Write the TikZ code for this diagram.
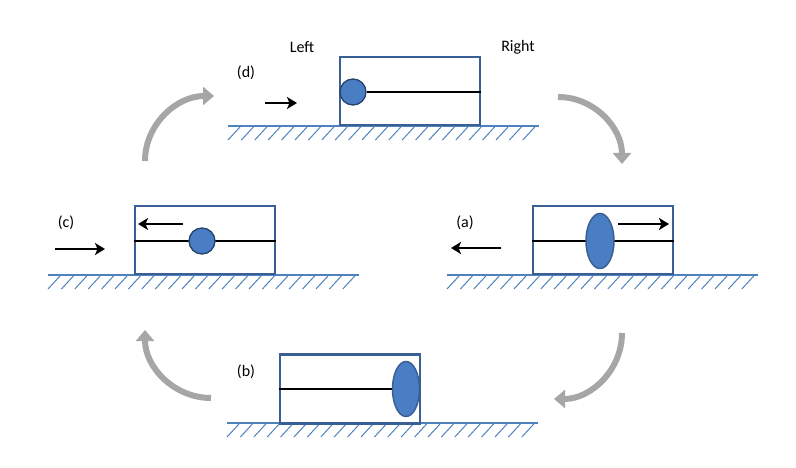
\documentclass[tikz,border=0pt]{standalone}
\usepackage{fontspec}
\setmainfont{Carlito}
\usetikzlibrary{arrows.meta,shapes.geometric}
\definecolor{boxblue}{HTML}{3A5F94}
\definecolor{ballfill}{HTML}{4A7EC4}
\definecolor{ballline}{HTML}{24426B}
\definecolor{groundblue}{HTML}{4F81BD}
\definecolor{cyclegray}{HTML}{A6A6A6}
\tikzset{
  housing/.style={draw=boxblue, line width=2.2pt, fill=white, rectangle, minimum width=140pt, inner sep=0pt},
  ball/.style={draw=ballline, line width=1.3pt, fill=ballfill, circle, minimum size=26pt, inner sep=0pt},
  disc/.style={draw=boxblue, line width=1.5pt, fill=ballfill, ellipse, inner sep=0pt},
  rod/.style={black, line width=2pt},
  groundline/.style={draw=groundblue, line width=1.5pt},
  hatchline/.style={draw=groundblue, line width=1pt},
  motion/.style={black, line width=2.8pt, -{Stealth[length=10pt,width=12pt,inset=2.5pt]}},
  cycle arrow/.style={cyclegray, line width=6pt, -{Triangle[length=11pt,width=18pt]}},
  tag/.style={font=\fontsize{16pt}{18pt}\selectfont, inner sep=0pt}
}
\begin{document}
\begin{tikzpicture}[x=1pt,y=-1pt]
\useasboundingbox (0,0) rectangle (796,468);
% grounds
\foreach \gx/\gy in {228/126, 48/275, 447/275, 227/423}{
  \draw[groundline] (\gx,\gy) -- ++(311,0);
  \foreach \k in {0,...,22}{
    \draw[hatchline] ({\gx+\k*13.4},{\gy+14}) -- ++(12,-13);
  }
}
% panel d
\node[housing, minimum height=68pt] (boxd) at (410,91) {};
\node[ball] (balld) at (353,92) {};
\draw[rod] (balld.east) -- (boxd.east |- balld.east);
\node[tag] (labd) at (246,73) {(d)};
\node[tag] (left) at (302,47) {Left};
\node[tag] (right) at (518,47) {Right};
\coordinate (d0) at (265,103); \coordinate (d1) at (297,103);
\draw[motion] (d0) -- (d1);
% panel c
\node[housing, minimum height=68pt] (boxc) at (205,240) {};
\draw[rod] (boxc.west |- 0,241) -- (boxc.east |- 0,241);
\node[ball] (ballc) at (202,241) {};
\node[tag] (labc) at (66,223) {(c)};
\coordinate (c0) at (55,249); \coordinate (c1) at (105,249);
\draw[motion] (c0) -- (c1);
\coordinate (c2) at (183,224); \coordinate (c3) at (138,224);
\draw[motion] (c2) -- (c3);
% panel a
\node[housing, minimum height=68pt] (boxa) at (603,240) {};
\draw[rod] (boxa.west |- 0,241) -- (boxa.east |- 0,241);
\node[disc, minimum width=28pt, minimum height=55pt] (disca) at (600,241) {};
\node[tag] (laba) at (465,223) {(a)};
\coordinate (a0) at (501,248); \coordinate (a1) at (451,248);
\draw[motion] (a0) -- (a1);
\coordinate (a2) at (618,224); \coordinate (a3) at (669,224);
\draw[motion] (a2) -- (a3);
% panel b
\node[housing, minimum height=69pt] (boxb) at (350,389) {};
\node[disc, minimum width=27pt, minimum height=55pt] (discb) at (406,389) {};
\draw[rod] (boxb.west) -- (discb.west);
\node[tag] (labb) at (246,372) {(b)};
% cycle arrows
\coordinate (u0) at (145,161); \coordinate (u1) at (214,96);
\draw[cycle arrow] (u0) to[out=90,in=180] (u1);
\coordinate (r0) at (558,97); \coordinate (r1) at (622,164);
\draw[cycle arrow] (r0) to[out=0,in=90] (r1);
\coordinate (s0) at (622,333); \coordinate (s1) at (554,399);
\draw[cycle arrow] (s0) to[out=-90,in=0] (s1);
\coordinate (t0) at (211,398); \coordinate (t1) at (145,330);
\draw[cycle arrow] (t0) to[out=180,in=-90] (t1);
\end{tikzpicture}
\end{document}
